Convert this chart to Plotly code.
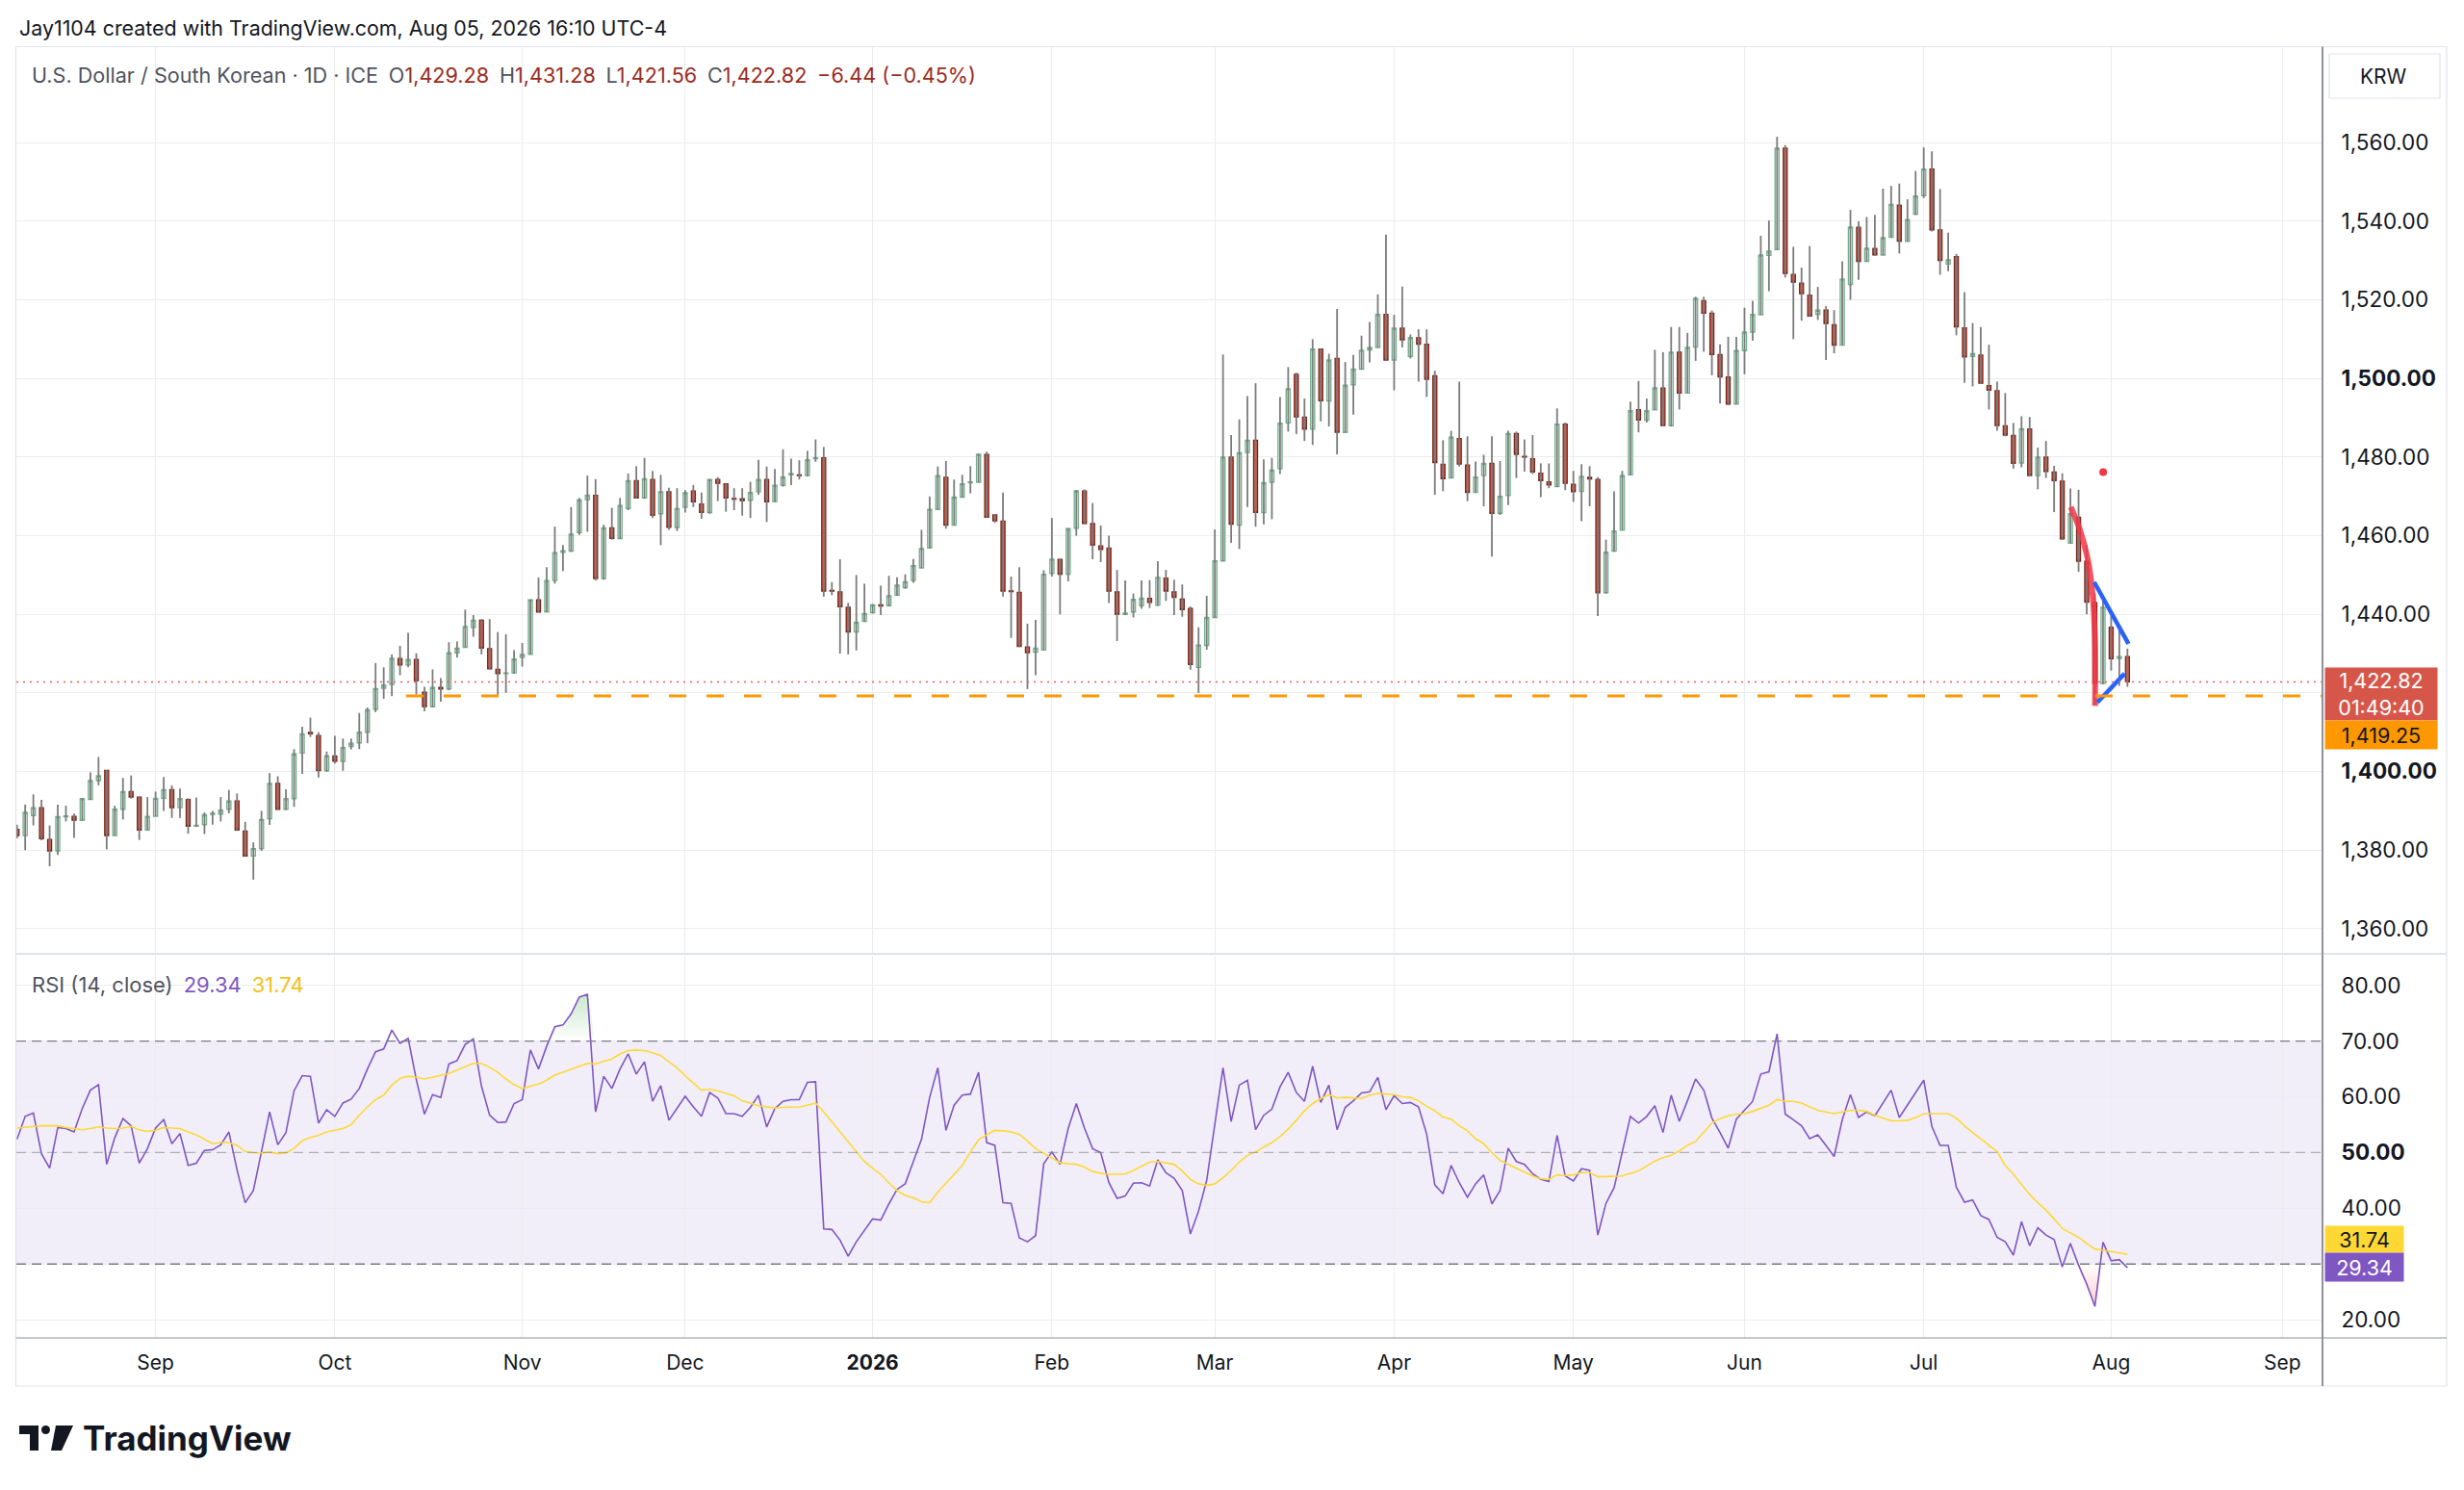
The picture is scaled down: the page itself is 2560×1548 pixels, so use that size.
import pandas as pd
import plotly.graph_objects as go

# daily bars, Aug 07 2025 .. Aug 05 2026 (weekdays only)
dates = pd.bdate_range("2025-08-07", "2026-08-05")

opens = [
    1385.3, 1383.7, 1388.8, 1390.8, 1382.7, 1379.8, 1388.5, 1388.6, 1387.6, 1392.9,
    1397.7, 1400.3, 1383.7, 1390.4, 1394.9, 1393.5, 1385.1, 1388.6, 1393.2, 1395.4,
    1390.8, 1392.9, 1386.1, 1386.5, 1389.1, 1389.2, 1390.4, 1392.5, 1384.9, 1378.5,
    1380.4, 1388.0, 1397.0, 1390.4, 1393.1, 1404.7, 1410.0, 1409.2, 1400.2, 1404.0,
    1402.6, 1406.4, 1407.3, 1410.0, 1415.8, 1421.2, 1422.2, 1428.8, 1427.1, 1428.5,
    1420.2, 1416.5, 1421.4, 1421.0, 1430.2, 1431.6, 1436.6, 1438.5, 1431.3, 1426.0,
    1424.9, 1425.1, 1429.0, 1429.8, 1443.7, 1440.6, 1448.6, 1455.8, 1456.1, 1460.8,
    1469.2, 1470.3, 1449.1, 1462.0, 1459.3, 1466.9, 1474.0, 1469.6, 1474.3, 1465.6,
    1471.2, 1462.1, 1467.2, 1471.4, 1468.1, 1465.9, 1474.3, 1473.2, 1469.5, 1469.4,
    1469.0, 1471.2, 1474.3, 1468.7, 1472.8, 1475.5, 1475.5, 1475.3, 1479.6, 1479.8,
    1446.1, 1445.7, 1441.8, 1435.5, 1438.2, 1440.4, 1442.4, 1442.2, 1444.9, 1446.8,
    1448.6, 1451.8, 1456.9, 1466.7, 1474.9, 1462.7, 1469.8, 1473.5, 1473.6, 1480.7,
    1465.3, 1463.7, 1446.0, 1445.6, 1431.7, 1430.4, 1430.9, 1450.4, 1454.0, 1450.2,
    1461.9, 1471.4, 1463.1, 1457.4, 1456.9, 1445.7, 1440.0, 1440.6, 1442.2, 1444.1,
    1442.3, 1449.2, 1445.7, 1443.9, 1441.5, 1426.5, 1432.1, 1439.2, 1453.6, 1480.0,
    1462.7, 1481.2, 1484.3, 1465.9, 1473.6, 1477.1, 1488.7, 1501.1, 1490.2, 1487.1,
    1507.5, 1494.3, 1505.1, 1486.3, 1498.4, 1502.4, 1507.3, 1507.9, 1516.3, 1504.7,
    1512.8, 1505.6, 1510.4, 1508.7, 1500.7, 1478.2, 1474.7, 1484.7, 1478.0, 1471.0,
    1475.3, 1478.4, 1465.7, 1470.2, 1486.0, 1480.2, 1479.6, 1475.9, 1473.7, 1472.5,
    1488.4, 1473.1, 1471.3, 1474.9, 1474.3, 1445.5, 1456.1, 1461.4, 1475.5, 1492.1,
    1489.4, 1492.0, 1497.6, 1488.0, 1506.7, 1496.3, 1508.0, 1519.8, 1516.6, 1506.1,
    1500.4, 1493.5, 1507.1, 1511.8, 1516.2, 1531.3, 1532.8, 1558.6, 1526.5, 1524.3,
    1521.2, 1516.3, 1517.4, 1513.7, 1508.5, 1523.9, 1538.5, 1529.8, 1533.1, 1531.4,
    1535.9, 1544.1, 1534.9, 1541.8, 1546.5, 1553.3, 1537.8, 1529.1, 1531.0, 1512.9,
    1505.6, 1506.0, 1498.2, 1496.9, 1488.0, 1485.5, 1478.5, 1487.2, 1475.3, 1480.0,
    1476.2, 1473.9, 1458.1, 1464.7, 1453.5, 1443.0, 1422.4, 1436.7, 1428.8, 1429.28,
]

highs = [
    1386.5, 1391.6, 1394.2, 1392.8, 1386.3, 1391.6, 1391.3, 1389.3, 1393.3, 1399.8,
    1403.7, 1400.4, 1391.3, 1398.4, 1399.0, 1393.6, 1393.5, 1394.9, 1398.6, 1396.5,
    1395.7, 1393.2, 1393.4, 1389.6, 1390.0, 1393.5, 1395.3, 1394.4, 1387.2, 1382.0,
    1390.0, 1399.6, 1398.8, 1395.5, 1405.7, 1411.4, 1413.7, 1410.0, 1405.1, 1409.1,
    1408.4, 1408.4, 1414.9, 1416.3, 1427.6, 1426.5, 1429.8, 1432.0, 1435.3, 1430.1,
    1421.6, 1426.0, 1423.8, 1432.9, 1433.1, 1441.2, 1439.8, 1438.8, 1438.8, 1435.5,
    1434.9, 1430.9, 1432.7, 1443.8, 1449.4, 1452.0, 1462.3, 1457.6, 1467.3, 1469.6,
    1475.3, 1474.4, 1462.8, 1467.1, 1469.6, 1475.8, 1477.7, 1479.8, 1476.5, 1475.5,
    1472.2, 1472.1, 1471.6, 1472.9, 1471.0, 1474.4, 1474.9, 1473.3, 1472.1, 1472.1,
    1473.7, 1479.3, 1477.6, 1477.0, 1482.0, 1479.6, 1479.2, 1481.6, 1484.5, 1482.6,
    1448.2, 1454.0, 1442.9, 1450.0, 1447.8, 1442.6, 1447.3, 1449.8, 1449.4, 1450.2,
    1454.1, 1461.5, 1470.0, 1477.6, 1479.0, 1474.3, 1475.5, 1477.7, 1480.8, 1481.4,
    1465.5, 1471.0, 1449.6, 1452.0, 1437.6, 1438.6, 1451.2, 1464.5, 1454.1, 1461.9,
    1471.6, 1471.8, 1468.3, 1462.6, 1460.0, 1451.3, 1448.6, 1445.3, 1448.6, 1448.7,
    1453.5, 1451.3, 1448.8, 1447.6, 1442.0, 1436.7, 1444.7, 1461.6, 1506.1, 1485.6,
    1489.6, 1495.5, 1498.8, 1479.4, 1479.8, 1495.3, 1502.9, 1501.5, 1494.9, 1510.0,
    1507.6, 1506.3, 1517.7, 1504.2, 1506.0, 1510.9, 1514.4, 1521.4, 1536.6, 1516.2,
    1523.4, 1511.2, 1512.5, 1512.5, 1502.0, 1484.3, 1486.7, 1499.2, 1485.3, 1478.9,
    1480.6, 1485.3, 1479.0, 1486.7, 1486.5, 1484.5, 1485.6, 1478.4, 1478.4, 1492.4,
    1488.8, 1476.5, 1478.2, 1477.7, 1474.9, 1459.0, 1471.3, 1476.5, 1494.1, 1499.4,
    1494.9, 1507.3, 1506.7, 1513.1, 1513.1, 1511.6, 1520.8, 1520.8, 1517.3, 1508.7,
    1510.6, 1510.6, 1518.0, 1519.8, 1536.3, 1540.2, 1561.5, 1559.4, 1533.5, 1528.2,
    1533.7, 1523.3, 1518.4, 1517.4, 1529.8, 1542.9, 1540.0, 1541.1, 1541.6, 1548.3,
    1549.0, 1549.6, 1545.6, 1552.8, 1558.8, 1557.8, 1548.2, 1537.1, 1531.7, 1522.0,
    1514.1, 1513.1, 1508.6, 1499.2, 1496.3, 1488.7, 1490.4, 1490.2, 1482.4, 1484.1,
    1477.8, 1475.9, 1472.0, 1471.7, 1457.6, 1445.3, 1444.7, 1439.6, 1436.5, 1431.28,
]

lows = [
    1383.0, 1380.0, 1386.3, 1382.5, 1375.9, 1378.8, 1387.3, 1383.1, 1387.6, 1392.8,
    1396.5, 1380.2, 1383.7, 1387.8, 1393.1, 1382.6, 1385.1, 1388.6, 1390.0, 1388.2,
    1388.2, 1384.2, 1386.0, 1384.1, 1386.5, 1387.3, 1389.4, 1384.9, 1378.4, 1372.5,
    1379.8, 1386.4, 1390.2, 1390.2, 1391.0, 1399.4, 1408.8, 1398.5, 1400.0, 1402.0,
    1400.2, 1405.6, 1405.7, 1407.2, 1415.1, 1418.5, 1419.2, 1424.5, 1426.5, 1419.6,
    1415.3, 1416.3, 1417.8, 1420.7, 1429.0, 1431.6, 1434.3, 1429.8, 1426.0, 1419.2,
    1420.0, 1424.9, 1426.7, 1429.8, 1440.4, 1440.6, 1447.8, 1451.0, 1455.9, 1460.2,
    1461.0, 1448.6, 1448.8, 1459.0, 1459.2, 1466.5, 1469.5, 1469.4, 1464.5, 1457.6,
    1461.5, 1461.2, 1465.9, 1467.3, 1464.3, 1465.6, 1468.8, 1466.1, 1466.5, 1465.1,
    1464.5, 1470.4, 1463.5, 1468.6, 1472.5, 1472.9, 1474.3, 1475.1, 1478.8, 1444.5,
    1444.9, 1430.0, 1429.8, 1430.8, 1438.1, 1440.2, 1439.8, 1442.0, 1444.7, 1446.5,
    1448.0, 1451.8, 1456.9, 1466.7, 1461.8, 1462.7, 1469.8, 1470.8, 1473.6, 1464.5,
    1463.3, 1444.5, 1434.0, 1431.7, 1421.0, 1424.5, 1430.9, 1449.6, 1440.0, 1448.4,
    1460.0, 1462.9, 1454.0, 1453.3, 1442.9, 1433.2, 1439.8, 1439.2, 1441.4, 1441.6,
    1442.2, 1443.4, 1439.8, 1439.4, 1425.9, 1420.0, 1431.0, 1439.2, 1453.5, 1458.2,
    1456.6, 1467.3, 1462.3, 1462.9, 1464.2, 1475.7, 1486.5, 1485.9, 1484.1, 1483.1,
    1489.1, 1487.8, 1480.7, 1486.3, 1490.8, 1502.3, 1504.1, 1507.9, 1504.5, 1497.0,
    1507.9, 1505.1, 1499.2, 1495.3, 1470.4, 1471.3, 1474.7, 1477.6, 1468.8, 1471.0,
    1467.5, 1454.7, 1465.3, 1467.8, 1474.7, 1476.3, 1475.7, 1469.8, 1472.1, 1472.4,
    1471.6, 1468.6, 1463.7, 1467.5, 1439.6, 1445.3, 1455.9, 1461.4, 1475.5, 1486.3,
    1488.8, 1492.0, 1487.8, 1487.8, 1492.1, 1496.3, 1504.5, 1506.8, 1500.8, 1493.6,
    1493.2, 1493.5, 1501.1, 1509.6, 1516.2, 1522.2, 1532.8, 1525.7, 1510.0, 1514.7,
    1515.7, 1514.9, 1504.7, 1506.4, 1508.5, 1520.0, 1525.1, 1529.8, 1531.2, 1531.4,
    1535.9, 1531.8, 1534.9, 1541.6, 1545.9, 1537.4, 1526.4, 1527.3, 1511.0, 1498.9,
    1498.0, 1498.6, 1492.1, 1486.7, 1485.3, 1477.1, 1477.4, 1475.1, 1471.8, 1474.7,
    1466.0, 1459.0, 1458.1, 1450.8, 1440.0, 1417.0, 1422.2, 1425.7, 1421.8, 1421.56,
]

closes = [
    1383.7, 1389.6, 1390.8, 1382.9, 1379.8, 1388.5, 1388.7, 1387.6, 1393.1, 1397.7,
    1398.9, 1383.7, 1390.4, 1394.9, 1393.5, 1385.1, 1388.6, 1393.2, 1395.4, 1390.8,
    1393.1, 1386.1, 1386.3, 1389.0, 1389.4, 1390.2, 1392.5, 1385.1, 1378.5, 1380.4,
    1387.8, 1397.0, 1390.4, 1393.1, 1404.5, 1409.6, 1409.6, 1400.2, 1404.0, 1402.6,
    1406.1, 1407.2, 1410.0, 1415.7, 1421.1, 1422.0, 1428.8, 1427.1, 1428.5, 1423.1,
    1416.5, 1421.4, 1421.0, 1430.2, 1431.4, 1436.9, 1438.5, 1431.4, 1426.1, 1424.9,
    1425.1, 1428.6, 1429.8, 1443.7, 1440.6, 1448.6, 1455.7, 1456.2, 1460.4, 1469.1,
    1470.3, 1449.1, 1462.0, 1459.3, 1467.7, 1474.0, 1469.6, 1474.5, 1465.2, 1471.2,
    1462.1, 1466.9, 1470.9, 1468.6, 1465.9, 1474.3, 1473.3, 1469.6, 1469.3, 1468.9,
    1471.0, 1474.3, 1468.6, 1472.8, 1474.9, 1475.8, 1475.3, 1479.3, 1479.8, 1445.9,
    1445.9, 1441.9, 1435.5, 1438.0, 1440.2, 1442.4, 1442.1, 1444.7, 1447.4, 1448.3,
    1452.4, 1456.7, 1466.7, 1475.3, 1462.7, 1469.8, 1473.2, 1473.7, 1480.7, 1464.7,
    1463.8, 1445.9, 1445.8, 1431.8, 1430.2, 1431.4, 1450.2, 1454.0, 1450.2, 1461.8,
    1471.4, 1463.1, 1457.6, 1456.5, 1445.9, 1440.0, 1440.3, 1443.8, 1444.1, 1443.0,
    1449.4, 1445.9, 1444.3, 1441.2, 1427.2, 1432.2, 1439.2, 1453.6, 1480.0, 1462.9,
    1481.1, 1484.3, 1465.9, 1473.5, 1476.7, 1488.6, 1497.4, 1490.2, 1487.1, 1507.5,
    1494.3, 1504.7, 1486.3, 1498.3, 1502.4, 1507.2, 1507.9, 1516.3, 1504.7, 1512.8,
    1509.8, 1510.4, 1508.7, 1499.8, 1478.6, 1474.5, 1485.1, 1478.2, 1471.0, 1474.9,
    1478.4, 1465.7, 1470.0, 1486.0, 1480.7, 1480.0, 1476.2, 1474.0, 1472.9, 1488.4,
    1473.3, 1471.2, 1475.1, 1474.4, 1445.5, 1455.8, 1461.2, 1475.3, 1491.8, 1489.4,
    1491.8, 1497.6, 1488.0, 1506.7, 1496.3, 1507.9, 1520.4, 1516.6, 1506.1, 1500.4,
    1493.5, 1507.1, 1511.8, 1516.3, 1531.4, 1532.4, 1558.6, 1526.7, 1524.5, 1521.6,
    1515.9, 1517.4, 1514.0, 1508.5, 1525.3, 1538.5, 1529.8, 1533.1, 1531.4, 1535.8,
    1544.3, 1534.9, 1540.4, 1546.4, 1553.3, 1537.8, 1530.0, 1530.2, 1513.1, 1505.5,
    1506.3, 1498.8, 1497.0, 1488.0, 1485.6, 1478.4, 1487.2, 1475.3, 1480.0, 1476.3,
    1474.0, 1459.2, 1465.6, 1453.5, 1443.1, 1422.4, 1441.8, 1428.7, 1429.26, 1422.82,
]

rsi = [
    52.4, 56.5, 57.1, 49.8, 47.2, 54.5, 54.3, 53.7, 57.9, 61.2,
    62.2, 47.9, 52.7, 56.1, 54.8, 48.1, 50.7, 54.4, 55.9, 51.6,
    53.4, 47.7, 48.1, 50.4, 50.5, 51.4, 53.7, 46.9, 41.0, 43.2,
    50.2, 57.3, 51.4, 53.6, 61.1, 63.8, 63.7, 55.3, 57.7, 56.5,
    58.9, 59.6, 61.5, 65.0, 68.1, 68.6, 72.0, 69.6, 70.5, 63.1,
    56.9, 60.4, 59.9, 65.9, 66.5, 69.4, 70.4, 61.9, 56.7, 55.4,
    55.5, 58.8, 59.5, 68.4, 65.0, 69.1, 72.6, 72.9, 74.9, 77.9,
    78.4, 57.3, 63.7, 61.5, 65.0, 67.7, 64.1, 66.3, 59.2, 62.0,
    55.8, 58.0, 60.1, 58.2, 56.5, 60.8, 59.8, 57.0, 57.0, 56.5,
    58.1, 60.3, 54.6, 57.9, 59.2, 59.5, 59.5, 62.6, 62.7, 36.3,
    36.2, 34.3, 31.4, 34.0, 36.1, 38.1, 37.9, 40.8, 43.4, 44.4,
    48.4, 52.4, 59.9, 65.2, 54.0, 58.5, 60.3, 60.5, 64.4, 51.8,
    51.3, 41.0, 40.9, 34.7, 34.0, 35.1, 48.0, 50.1, 47.9, 54.3,
    58.8, 54.4, 50.7, 50.0, 44.6, 41.8, 42.2, 44.5, 44.6, 44.0,
    48.7, 46.4, 45.4, 43.2, 35.4, 39.5, 45.0, 55.0, 65.2, 55.6,
    62.1, 63.0, 54.1, 56.7, 57.8, 61.8, 64.4, 60.8, 59.2, 65.5,
    59.0, 62.1, 54.1, 58.1, 59.3, 60.7, 60.9, 63.5, 57.7, 60.2,
    58.8, 59.0, 58.2, 53.3, 44.2, 42.6, 47.7, 44.6, 42.0, 44.4,
    46.0, 40.8, 43.2, 50.8, 48.4, 47.9, 46.2, 45.2, 44.8, 53.1,
    45.8, 44.9, 47.1, 46.8, 35.2, 40.9, 43.7, 50.1, 56.5, 55.3,
    56.5, 58.4, 53.6, 60.3, 55.6, 59.3, 63.2, 61.2, 56.2, 53.6,
    50.8, 56.0, 57.6, 59.2, 64.1, 64.5, 71.3, 56.9, 55.9, 54.8,
    52.5, 53.2, 51.3, 49.3, 55.9, 60.4, 56.3, 57.3, 56.6, 58.8,
    61.2, 56.3, 58.5, 60.8, 63.0, 54.7, 51.3, 51.3, 43.8, 41.1,
    41.5, 38.7, 38.0, 34.8, 34.0, 31.6, 37.6, 33.3, 36.5, 35.2,
    34.4, 29.5, 33.7, 29.8, 26.4, 22.4, 33.9, 30.6, 30.8, 29.34,
]

rsi_ma = [
    54.4, 54.6, 54.7, 54.8, 54.8, 54.8, 54.5, 54.3, 54.1, 54.3,
    54.6, 54.4, 54.3, 54.4, 54.7, 54.1, 53.8, 54.0, 54.5, 54.4,
    54.3, 53.7, 53.2, 52.4, 51.6, 51.8, 51.8, 51.3, 50.2, 50.0,
    49.9, 50.1, 49.8, 49.9, 50.8, 52.1, 52.7, 53.1, 53.7, 54.0,
    54.3, 55.0, 56.7, 58.2, 59.5, 60.3, 62.1, 63.3, 63.7, 63.5,
    63.2, 63.5, 63.8, 64.2, 64.8, 65.4, 66.0, 66.0, 65.3, 64.4,
    63.2, 62.2, 61.5, 61.9, 62.3, 63.0, 63.9, 64.4, 65.0, 65.5,
    66.0, 65.9, 66.4, 66.8, 67.7, 68.3, 68.4, 68.3, 67.9, 67.4,
    66.3, 65.2, 63.8, 62.5, 61.2, 61.4, 61.1, 60.6, 60.2, 59.3,
    58.8, 58.4, 58.2, 58.0, 58.1, 58.2, 58.2, 58.5, 58.9, 57.3,
    55.5, 53.9, 52.1, 50.3, 48.4, 47.2, 46.1, 44.6, 43.2, 42.3,
    41.9, 41.2, 41.0, 42.9, 44.5, 46.1, 47.7, 50.1, 52.3, 53.2,
    54.0, 53.9, 53.7, 53.3, 52.1, 50.7, 49.9, 49.0, 48.2, 48.0,
    47.9, 47.4, 46.6, 46.3, 46.1, 46.1, 46.2, 46.8, 47.6, 48.3,
    48.4, 48.2, 47.9, 46.7, 45.2, 44.4, 44.1, 44.4, 45.5, 46.8,
    48.3, 49.5, 50.1, 51.0, 51.8, 52.9, 54.2, 55.8, 57.5, 58.8,
    59.7, 60.4, 59.8, 59.9, 59.8, 59.7, 60.3, 60.6, 60.5, 60.4,
    60.0, 59.9, 59.3, 58.3, 57.5, 56.4, 56.0, 54.8, 53.9, 52.5,
    51.6, 50.0, 48.6, 47.9, 47.2, 46.5, 45.8, 45.3, 45.2, 46.0,
    45.9, 46.0, 46.4, 46.4, 45.7, 45.7, 45.7, 45.8, 46.3, 46.7,
    47.6, 48.5, 49.1, 49.5, 50.3, 51.3, 52.0, 53.6, 55.3, 56.1,
    56.6, 56.9, 57.0, 57.4, 57.9, 58.5, 59.5, 59.2, 59.2, 58.9,
    58.2, 57.6, 57.3, 57.0, 57.3, 57.6, 57.6, 57.4, 56.7, 56.2,
    55.7, 55.7, 55.8, 56.3, 57.0, 57.0, 57.0, 57.0, 56.2, 54.8,
    53.6, 52.4, 51.3, 50.2, 47.7, 46.1, 44.4, 42.5, 41.0, 39.7,
    38.1, 36.4, 35.6, 34.8, 33.7, 32.7, 32.5, 32.2, 32.0, 31.74,
]

month_ticks = ["2025-09-01", "2025-10-01", "2025-11-03", "2025-12-01", "2026-01-01",
               "2026-02-02", "2026-03-02", "2026-04-01", "2026-05-01", "2026-06-01",
               "2026-07-01", "2026-08-03", "2026-09-01"]
month_labels = ["Sep", "Oct", "Nov", "Dec", "<b>2026</b>", "Feb", "Mar", "Apr", "May",
                "Jun", "Jul", "Aug", "Sep"]

price_ticks = [1360, 1380, 1400, 1420, 1440, 1460, 1480, 1500, 1520, 1540, 1560]
rsi_ticks = [20, 30, 40, 50, 60, 70, 80]

last_price = 1422.82
support = 1419.25

# chart drawings (brush, trend lines, dot)
brush_x = ["2026-07-27 01:00", "2026-07-28 03:30", "2026-07-29 02:30",
           "2026-07-29 17:00", "2026-07-30 00:00", "2026-07-30 00:30"]
brush_y = [1467.3, 1461.6, 1454.3, 1445.3, 1433.9, 1416.7]
blue_x = ["2026-07-29 22:00", "2026-08-05 03:00", None, "2026-07-30 07:30", "2026-08-04 15:30"]
blue_y = [1448.2, 1432.5, None, 1417.6, 1424.9]
dot_x = ["2026-07-31 00:30"]
dot_y = [1476.2]

UP = "#76b08f"
DOWN_FILL = "#d5503c"
DOWN_EDGE = "#7a2318"
WICK = "#7b7b7b"
GRID = "#ebecef"
FONT = "Inter, Roboto, sans-serif"
TXT = "#131722"

# plot area in page pixels
PL, PR, PT, PB = 17, 2413, 49, 1390


def px(x):
    return (x - PL) / (PR - PL)


def py(y):
    return (PB - y) / (PB - PT)


X_RANGE = ["2025-08-06 22:00", "2026-09-07 22:30"]

fig = go.Figure()

wick_x, wick_y = [], []
for d, lo, hi in zip(dates, lows, highs):
    wick_x += [d, d, None]
    wick_y += [lo, hi, None]

fig.add_trace(go.Scatter(x=wick_x, y=wick_y, mode="lines",
                         line=dict(color=WICK, width=1.8), hoverinfo="skip",
                         xaxis="x", yaxis="y"))

body_hi = [max(o, c) for o, c in zip(opens, closes)]
body_lo = [min(o, c) for o, c in zip(opens, closes)]
fig.add_trace(go.Candlestick(
    x=dates, open=opens, high=body_hi, low=body_lo, close=closes,
    increasing=dict(line=dict(color=UP, width=1.4), fillcolor="#ffffff"),
    decreasing=dict(line=dict(color=DOWN_EDGE, width=1.2), fillcolor=DOWN_FILL),
    whiskerwidth=0, hoverinfo="skip", xaxis="x", yaxis="y",
))

fig.add_trace(go.Scatter(x=brush_x, y=brush_y, mode="lines",
                         line=dict(color="rgba(242,54,69,0.85)", width=6, shape="spline"),
                         hoverinfo="skip", xaxis="x", yaxis="y"))
fig.add_trace(go.Scatter(x=blue_x, y=blue_y, mode="lines",
                         line=dict(color="#2962ff", width=4.5), hoverinfo="skip",
                         xaxis="x", yaxis="y"))
fig.add_trace(go.Scatter(x=dot_x, y=dot_y, mode="markers",
                         marker=dict(color="#f23645", size=8), hoverinfo="skip",
                         xaxis="x", yaxis="y"))

# RSI pane
ob = [max(v, 70) for v in rsi]
os_ = [min(v, 30) for v in rsi]
fig.add_trace(go.Scatter(x=dates, y=[70] * len(rsi), mode="lines", line=dict(width=0),
                         hoverinfo="skip", xaxis="x2", yaxis="y2"))
fig.add_trace(go.Scatter(x=dates, y=ob, mode="lines", line=dict(width=0), fill="tonexty",
                         fillgradient=dict(type="vertical", start=70, stop=80,
                                           colorscale=[[0, "rgba(76,175,80,0)"],
                                                       [1, "rgba(76,175,80,0.35)"]]),
                         hoverinfo="skip", xaxis="x2", yaxis="y2"))
fig.add_trace(go.Scatter(x=dates, y=[30] * len(rsi), mode="lines", line=dict(width=0),
                         hoverinfo="skip", xaxis="x2", yaxis="y2"))
fig.add_trace(go.Scatter(x=dates, y=os_, mode="lines", line=dict(width=0), fill="tonexty",
                         fillgradient=dict(type="vertical", start=20, stop=30,
                                           colorscale=[[0, "rgba(242,54,69,0.35)"],
                                                       [1, "rgba(242,54,69,0)"]]),
                         hoverinfo="skip", xaxis="x2", yaxis="y2"))
fig.add_trace(go.Scatter(x=dates, y=rsi, mode="lines", line=dict(color="#7e57c2", width=1.6),
                         hoverinfo="skip", xaxis="x2", yaxis="y2"))
fig.add_trace(go.Scatter(x=dates, y=rsi_ma, mode="lines", line=dict(color="#fdd835", width=1.6),
                         hoverinfo="skip", xaxis="x2", yaxis="y2"))


def fmt_price(v):
    if v == 1420:  # hidden behind the last-price badge
        return ""
    s = f"{v:,.2f}"
    return f"<b>{s}</b>" if v in (1400, 1500) else s


def fmt_rsi(v):
    if v == 30:  # hidden behind the RSI badges
        return ""
    s = f"{v:.2f}"
    return f"<b>{s}</b>" if v == 50 else s


xcommon = dict(type="date", range=X_RANGE, rangebreaks=[dict(bounds=["sat", "mon"])],
               tickvals=month_ticks, showgrid=True, gridcolor=GRID, gridwidth=1,
               zeroline=False, showline=False, fixedrange=True,
               rangeslider=dict(visible=False))

fig.update_layout(
    width=2560, height=1548, autosize=False,
    margin=dict(l=PL, r=2560 - PR, t=PT, b=1548 - PB),
    paper_bgcolor="white", plot_bgcolor="white",
    showlegend=False,
    font=dict(family=FONT, size=21, color=TXT),
    xaxis=dict(**xcommon, domain=[0, 1], anchor="y", showticklabels=False, ticks=""),
    xaxis2=dict(**xcommon, domain=[0, 1], anchor="y2", matches="x",
                ticktext=month_labels, ticks="outside", ticklen=7,
                tickcolor="rgba(0,0,0,0)", tickfont=dict(size=21, color=TXT)),
    yaxis=dict(domain=[0.2975, 1], side="right", range=[1353.6, 1584.3],
               tickvals=price_ticks, ticktext=[fmt_price(v) for v in price_ticks],
               ticks="outside", ticklen=14, tickcolor="rgba(0,0,0,0)",
               showgrid=True, gridcolor=GRID, zeroline=False, showline=False,
               tickfont=dict(size=22.5, color=TXT), fixedrange=True),
    yaxis2=dict(domain=[0, 0.296], side="right", range=[16.75, 85.3], anchor="x2",
                tickvals=rsi_ticks, ticktext=[fmt_rsi(v) for v in rsi_ticks],
                ticks="outside", ticklen=14, tickcolor="rgba(0,0,0,0)",
                showgrid=True, gridcolor=GRID, zeroline=False, showline=False,
                tickfont=dict(size=22.5, color=TXT), fixedrange=True),
)

shapes = [
    # RSI band and levels
    dict(type="rect", xref="paper", yref="y2", x0=0, x1=1, y0=30, y1=70,
         fillcolor="rgba(126,87,194,0.1)", line=dict(width=0), layer="below"),
    dict(type="line", xref="paper", yref="y2", x0=0, x1=1, y0=70, y1=70,
         line=dict(color="#787b86", width=1.3, dash="10px,6px")),
    dict(type="line", xref="paper", yref="y2", x0=0, x1=1, y0=50, y1=50,
         line=dict(color="rgba(120,123,134,0.55)", width=1.3, dash="10px,6px")),
    dict(type="line", xref="paper", yref="y2", x0=0, x1=1, y0=30, y1=30,
         line=dict(color="#787b86", width=1.3, dash="10px,6px")),
    # last price and support
    dict(type="line", xref="paper", yref="y", x0=0, x1=1, y0=last_price, y1=last_price,
         line=dict(color="#f05a5a", width=1.5, dash="2px,5px")),
    dict(type="line", xref="x", yref="y", x0="2025-10-13 18:00", x1=X_RANGE[1],
         y0=support, y1=support, line=dict(color="#ff9800", width=3, dash="18px,21px")),
    # frame and separators
    dict(type="rect", xref="paper", yref="paper", x0=px(16.5), x1=px(2542), y0=py(1440),
         y1=py(48.5), line=dict(color="#e0e3eb", width=1.2)),
    dict(type="line", xref="paper", yref="paper", x0=px(16.5), x1=px(2542), y0=py(991),
         y1=py(991), line=dict(color="#e0e3eb", width=2)),
    dict(type="line", xref="paper", yref="paper", x0=px(16.5), x1=px(2542), y0=py(1390),
         y1=py(1390), line=dict(color="#b2b5be", width=1.5)),
    dict(type="line", xref="paper", yref="paper", x0=px(2413), x1=px(2413), y0=py(1440),
         y1=py(48.5), line=dict(color="#8f929b", width=2)),
    dict(type="rect", xref="paper", yref="paper", x0=px(2420), x1=px(2535), y0=py(102),
         y1=py(56), line=dict(color="#e0e3eb", width=1.2), fillcolor="white"),
    # TradingView logo mark
    dict(type="rect", xref="paper", yref="paper", x0=px(20), x1=px(40), y0=py(1490),
         y1=py(1481), fillcolor=TXT, line=dict(width=0)),
    dict(type="rect", xref="paper", yref="paper", x0=px(31), x1=px(40), y0=py(1507),
         y1=py(1481), fillcolor=TXT, line=dict(width=0)),
    dict(type="circle", xref="paper", yref="paper", x0=px(43), x1=px(52), y0=py(1490),
         y1=py(1481), fillcolor=TXT, line=dict(width=0)),
    dict(type="path", xref="paper", yref="paper",
         path=f"M {px(58)} {py(1481)} L {px(76)} {py(1481)} L {px(64)} {py(1507)} "
              f"L {px(53)} {py(1507)} Z", fillcolor=TXT, line=dict(width=0)),
]
fig.update_layout(shapes=shapes)


def ann(x, y, text, **kw):
    base = dict(xref="paper", yref="paper", x=px(x), y=py(y), text=text, showarrow=False,
                xanchor="left", yanchor="middle")
    base.update(kw)
    return base


red = "#9a2c22"
legend = ("U.S. Dollar / South Korean · 1D · ICE\u2002"
          f"O<span style='color:{red}'>1,429.28</span>\u2002"
          f"H<span style='color:{red}'>1,431.28</span>\u2002"
          f"L<span style='color:{red}'>1,421.56</span>\u2002"
          f"C<span style='color:{red}'>1,422.82</span>\u2002"
          f"<span style='color:{red}'>−6.44 (−0.45%)</span>")

annotations = [
    ann(18, 29, "Jay1104 created with TradingView.com, Aug 05, 2026 16:10 UTC-4",
        font=dict(size=21.4, color=TXT)),
    ann(31, 78, legend, font=dict(size=21.6, color="#50535e")),
    ann(31, 1023, "RSI (14, close)\u2002<span style='color:#7e57c2'>29.34</span>\u2002"
                  "<span style='color:#f2c21b'>31.74</span>",
        font=dict(size=22, color="#50535e")),
    ann(2477, 79, "KRW", xanchor="center", font=dict(size=21, color=TXT)),
    # price scale badges
    ann(2415, 721, "1,422.82<br>01:49:40", width=112, height=50, bgcolor="#d6574a",
        font=dict(size=21.5, color="white"), align="center", borderpad=2),
    ann(2415, 763, "1,419.25", width=112, height=25, bgcolor="#ff9800",
        font=dict(size=21.5, color="#131722"), align="center", borderpad=2),
    ann(2415, 1287, "31.74", width=77, height=23, bgcolor="#fdd835",
        font=dict(size=21.5, color="#131722"), align="center", borderpad=2),
    ann(2415, 1316, "29.34", width=77, height=25, bgcolor="#7e57c2",
        font=dict(size=21.5, color="white"), align="center", borderpad=2),
    # footer wordmark
    ann(84, 1494, "<b>TradingView</b>", font=dict(size=35, color=TXT)),
]
fig.update_layout(annotations=annotations)

fig.write_html("out.html", config={"displayModeBar": False},
               post_script="document.body.style.margin='0';document.body.style.overflow='hidden';")
